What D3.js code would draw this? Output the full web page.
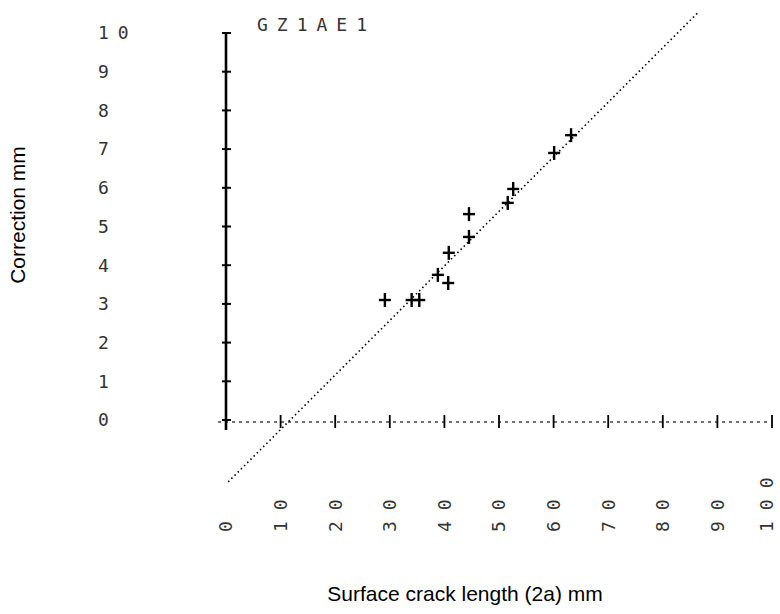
<!DOCTYPE html>
<html>
<head>
<meta charset="utf-8">
<script src="https://cdn.jsdelivr.net/npm/d3@7"></script>
<style>
  body { margin: 0; background: #fff; }
  .tick-label { font-family: "DejaVu Sans Mono", monospace; font-size: 18px; fill: #333; }
  .axis-title { font-family: "Liberation Sans", Arial, sans-serif; font-size: 21px; fill: #000; }
</style>
</head>
<body>
<div id="chart"></div>
<script>
// data
var title = "GZ1AE1";
var crackLength = [29.1, 34.0, 35.4, 38.8, 40.7, 40.8, 44.5, 44.5, 51.6, 52.6, 60.1, 63.2];
var correction = [3.10, 3.10, 3.10, 3.75, 3.54, 4.32, 4.73, 5.32, 5.61, 5.97, 6.90, 7.36];
var fitX = [0.4, 86.6];
var fitY = [-1.6, 10.55];
var xTicks = [0, 10, 20, 30, 40, 50, 60, 70, 80, 90, 100];
var yTicks = [0, 1, 2, 3, 4, 5, 6, 7, 8, 9, 10];

var svgWidth = 780;
var svgHeight = 614;

var svg = d3.select("#chart")
  .append("svg")
  .attr("width", svgWidth)
  .attr("height", svgHeight);

var x = d3.scaleLinear().domain([0, 100]).range([226, 772]);
var y = d3.scaleLinear().domain([0, 10]).range([420, 33]);

// x axis: dotted line with + ticks
svg.append("line")
  .attr("x1", 218).attr("x2", x(100))
  .attr("y1", y(0) + 2).attr("y2", y(0) + 2)
  .attr("stroke", "#444")
  .attr("stroke-width", 1.3)
  .attr("stroke-dasharray", "3,4");

svg.selectAll(".xtick")
  .data(xTicks)
  .enter()
  .append("line")
  .attr("x1", d => x(d)).attr("x2", d => x(d))
  .attr("y1", y(0) - 5).attr("y2", y(0) + 8)
  .attr("stroke", "#000")
  .attr("stroke-width", 1.8);

svg.selectAll(".xlab")
  .data(xTicks)
  .enter()
  .append("text")
  .attr("class", "tick-label")
  .attr("font-size", "17px")
  .attr("transform", d => `translate(${Math.min(x(d), 767)}, 532) rotate(-90)`)
  .attr("dy", "0.35em")
  .attr("letter-spacing", "11px")
  .text(d => d);

// y axis: heavy solid line
svg.append("line")
  .attr("x1", x(0)).attr("x2", x(0))
  .attr("y1", y(10)).attr("y2", y(0) + 10)
  .attr("stroke", "#000")
  .attr("stroke-width", 2.6);

svg.selectAll(".ytick")
  .data(yTicks)
  .enter()
  .append("line")
  .attr("x1", x(0) - 4).attr("x2", x(0) + 5)
  .attr("y1", d => y(d)).attr("y2", d => y(d))
  .attr("stroke", "#000")
  .attr("stroke-width", 2);

svg.selectAll(".ylab")
  .data(yTicks)
  .enter()
  .append("text")
  .attr("class", "tick-label")
  .attr("x", 98)
  .attr("y", d => y(d))
  .attr("dy", "0.35em")
  .attr("letter-spacing", "9px")
  .text(d => d);

// fitted line
svg.append("line")
  .attr("x1", x(fitX[0])).attr("y1", y(fitY[0]))
  .attr("x2", x(fitX[1])).attr("y2", y(fitY[1]))
  .attr("stroke", "#000")
  .attr("stroke-width", 1.6)
  .attr("stroke-dasharray", "1.5,3");

// data crosses
var pts = svg.selectAll(".pt")
  .data(crackLength.map((c, i) => ({x: c, y: correction[i]})))
  .enter()
  .append("g")
  .attr("transform", d => `translate(${x(d.x)}, ${y(d.y)})`);

pts.append("line").attr("x1", -6).attr("x2", 6).attr("stroke", "#000").attr("stroke-width", 2.4);
pts.append("line").attr("y1", -7).attr("y2", 7).attr("stroke", "#000").attr("stroke-width", 2.4);

// title
svg.append("text")
  .attr("class", "tick-label")
  .attr("x", 257)
  .attr("y", 31)
  .attr("font-size", "20px")
  .attr("letter-spacing", "9px")
  .text(title);

// axis titles
svg.append("text")
  .attr("class", "axis-title")
  .attr("transform", "translate(25, 215) rotate(-90)")
  .attr("text-anchor", "middle")
  .text("Correction mm");

svg.append("text")
  .attr("class", "axis-title")
  .attr("x", 465)
  .attr("y", 601)
  .attr("text-anchor", "middle")
  .text("Surface crack length (2a) mm");
</script>
</body>
</html>
